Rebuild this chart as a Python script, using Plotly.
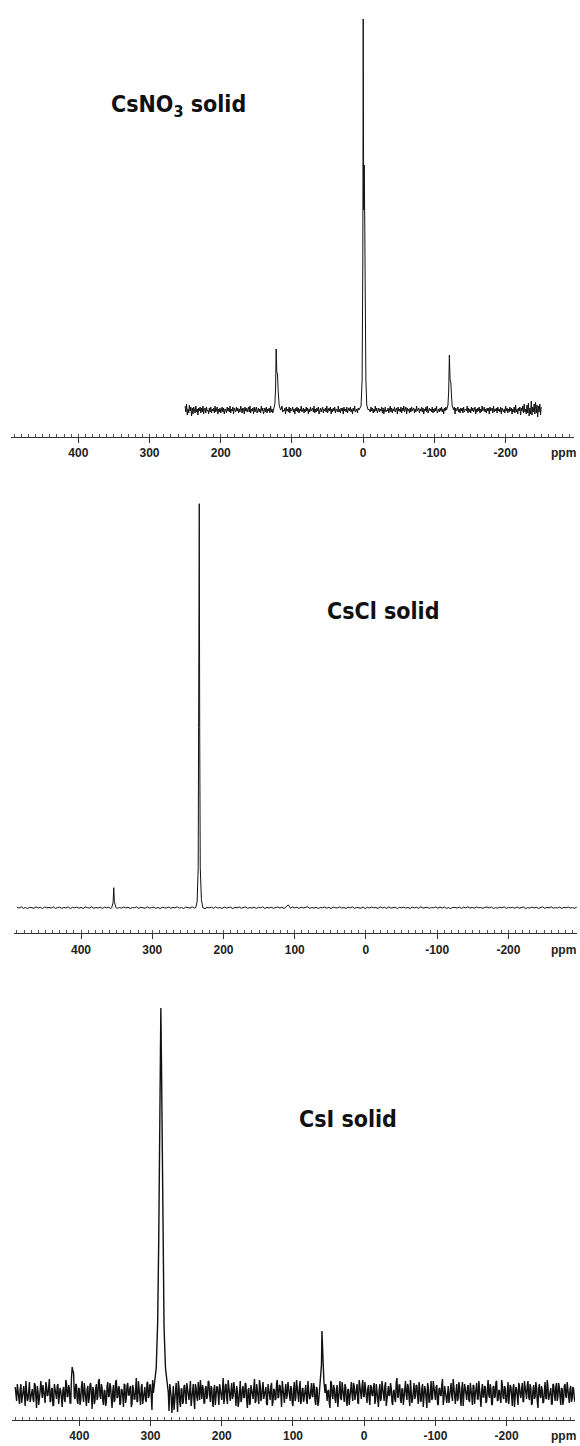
import plotly.graph_objects as go

# ---------------- shared axis ----------------
PPM_RANGE = [494.5, -296]
TICK_VALUES = [400, 300, 200, 100, 0, -100, -200]
TICK_TEXT = ["400", "300", "200", "100", "0", "-100", "-200"]

# ---------------- CsNO3 solid ----------------
CSNO3_LABEL = "CsNO<sub>3</sub> solid"
CSNO3_START, CSNO3_STEP = 250, 1
CSNO3_NOISE = [
    4, -2, 6, -5, 1, -3, 5, -1, 3, -6,
    2, -4, 3, 0, -3, 4, -2, 1, -5, 2,
    -1, 3, -3, 2, -2, 4, -4, 1, 2, -3,
    3, -1, 0, -4, 2, -2, 3, -3, 1, -1,
    2, -3, 4, -2, 0, 3, -4, 1, -2, 2,
    -3, 1, 3, -2, 2, -4, 1, 0, -3, 3,
    -1, 2, -2, 4, -3, 1, -1, 3, -4, 2,
    0, -2, 3, -1, 2, -3, 1, -2, 4, -1,
    -3, 2, 1, -4, 3, -1, 2, -2, 0, 3,
    -2, 4, -3, 1, -1, 2, -4, 3, -2, 1,
    3, -3, 0, 2, -2, 1, -3, 4, -1, 2,
    -4, 1, 2, -2, 3, -3, 1, -1, 2, -3,
    4, -2, 1, -3, 2, 0, -2, 3, -4, 1,
    -1, 3, -2, 2, -3, 1, 4, -2, 0, -1,
    2, -4, 3, -1, 1, -2, 3, -3, 2, -1,
    0, 3, -2, 1, -4, 2, -1, 3, -2, 2,
    -3, 1, -1, 4, -2, 0, 2, -3, 1, -2,
    3, -1, 2, -4, 1, -2, 3, -1, 0, 2,
    -2, 4, -3, 1, -2, 2, -1, 3, -4, 1,
    2, -2, 0, 3, -3, 1, -1, 2, -2, 4,
    -3, 1, 2, -1, 3, -4, 1, -2, 2, -1,
    3, -3, 1, 0, -2, 4, -2, 1, -3, 2,
    -1, 2, -4, 3, -1, 1, -2, 3, -3, 0,
    2, -1, 3, -2, 1, -4, 2, -1, 4, -2,
    0, 1, -3, 2, -2, 3, -1, 0, 2, -3,
    4, -2, 1, -1, 3, -3, 2, -4, 1, 0,
    -2, 3, -1, 2, -3, 1, -2, 4, -1, 2,
    -3, 0, 2, -2, 1, -1, 3, -3, 2, -4,
    1, 3, -2, 0, -1, 2, -3, 1, 4, -2,
    2, -3, 1, -1, 3, -2, 0, 2, -4, 3,
    -1, 1, -2, 3, -3, 2, -1, 4, -2, 0,
    3, -4, 2, -1, 1, -3, 2, -2, 3, -1,
    0, 2, -3, 1, -2, 4, -1, 0, 2, -3,
    1, -1, 3, -2, 2, -4, 1, -1, 3, -2,
    4, -3, 0, 2, -1, 1, -2, 3, -3, 1,
    -2, 2, -1, 4, -3, 0, 1, -2, 2, -1,
    3, -2, 1, -4, 2, -1, 3, -3, 0, 2,
    -1, 4, -2, 1, -3, 2, -2, 1, 3, -4,
    2, -1, 0, 3, -2, 1, -3, 2, -1, 2,
    -3, 3, -2, 0, 1, -1, 4, -3, 2, -2,
    1, -3, 3, -1, 2, -2, 0, 3, -4, 1,
    -2, 2, -1, 3, -3, 1, -2, 4, -1, 0,
    3, -2, 1, -3, 2, -1, 2, -4, 3, -1,
    0, 2, -3, 4, -2, 1, -1, 2, -3, 3,
    -1, 1, -2, 3, -4, 2, 0, -2, 1, -3,
    4, -1, 2, -3, 1, -2, 3, -1, 2, -4,
    1, -2, 3, -3, 5, -2, 1, -4, 2, -1,
    3, -5, 2, -1, 4, -3, 6, -2, 1, -4,
    5, -3, 7, -6, 2, -4, 9, -5, 3, -2,
    6, -4, 8, -3, 5, -7, 4, -2, 6, -5,
    3,
]
CSNO3_CENTER = [(6, 0), (3, 4), (1.5, 30), (0.5, 150), (0, 391), (-0.7, 200),
                (-1.5, 245), (-2.3, 180), (-3.0, 90), (-3.8, 30), (-5, 5), (-7, 0)]
CSNO3_SB_LEFT = [(126, 0), (124, 6), (123, 22), (122.2, 61), (121.3, 38),
                 (120.3, 36), (119.3, 18), (118, 5), (116, 0)]
CSNO3_SB_RIGHT = [(-117, 0), (-119, 5), (-120, 18), (-121, 55), (-122, 30),
                  (-123, 28), (-124, 14), (-125, 4), (-127, 0)]

# ---------------- CsCl solid ----------------
CSCL_LABEL = "CsCl solid"
CSCL_START, CSCL_STEP = 490, 3
CSCL_NOISE = [
    0.6, -0.4, 0.9, -0.7, 0.2, -0.9, 0.5, 0.1, -0.6, 0.8,
    -0.3, 0.4, -0.8, 0.7, -0.2, 0.3, -0.5, 0.9, -0.7, 0.1,
    0.5, -0.6, 0.2, -0.3, 0.8, -0.9, 0.4, -0.1, 0.6, -0.5,
    0.3, -0.8, 0.7, 0.0, -0.4, 0.9, -0.6, 0.2, -0.3, 0.5,
    -0.7, 0.6, -0.2, 0.4, -0.9, 0.3, 0.8, -0.5, 0.1, -0.4,
    0.7, -0.3, 0.5, -0.8, 0.2, -0.1, 0.9, -0.6, 0.4, -0.2,
    -0.5, 0.8, -0.4, 0.1, 0.6, -0.7, 0.3, -0.9, 0.5, 0.0,
    -0.3, 0.7, -0.6, 0.4, -0.2, 0.9, -0.5, 0.2, -0.8, 0.6,
    0.1, -0.4, 0.8, -0.3, 0.5, -0.7, 0.2, 0.6, -0.9, 0.3,
    -0.1, 0.5, -0.6, 0.9, -0.4, 0.2, -0.8, 0.7, -0.3, 0.4,
    0.6, -0.9, 0.3, -0.2, 0.7, -0.5, 0.1, 0.8, -0.6, 0.2,
    -0.4, 0.6, -0.7, 0.3, -0.1, 0.9, -0.8, 0.4, -0.3, 0.5,
    -0.6, 0.2, 0.7, -0.4, 0.5, -0.9, 1.2, 2.8, -0.5, 0.8,
    -0.2, 0.4, -0.7, 0.6, -0.3, 0.1, 0.9, -0.6, 0.2, -0.4,
    0.5, -0.8, 0.3, -0.1, 0.7, -0.5, 0.4, -0.9, 0.6, 0.0,
    -0.3, 0.8, -0.4, 0.2, -0.7, 0.5, -0.2, 0.9, -0.6, 0.3,
    0.1, -0.5, 0.7, -0.8, 0.4, -0.3, 0.6, -0.1, 0.2, -0.7,
    0.9, -0.2, 0.3, -0.6, 0.8, -0.4, 0.1, 0.5, -0.9, 0.4,
    -0.1, 0.6, -0.5, 0.3, -0.8, 0.7, -0.2, 0.4, -0.6, 0.9,
    -0.4, 0.2, 0.5, -0.7, 0.3, -0.1, 0.8, -0.5, 0.6, -0.3,
    0.7, -0.6, 0.1, -0.9, 0.4, 0.2, -0.3, 0.6, -0.7, 0.5,
    -0.2, 0.9, -0.4, 0.3, -0.5, 0.8, -0.1, 0.2, -0.6, 0.4,
    0.6, -0.3, 0.7, -0.8, 0.1, -0.4, 0.5, -0.2, 0.9, -0.7,
    0.3, -0.1, 0.4, -0.6, 0.8, -0.5, 0.2, 0.7, -0.9, 0.1,
    -0.4, 0.6, -0.3, 0.5, -0.7, 0.2, 0.9, -0.6, 0.3, -0.2,
    0.8, -0.5, 0.1, -0.3, 0.6, -0.8, 0.4, -0.1, 0.7, -0.4,
    0.2, -0.6, 0.5,
]
CSCL_MAIN = [(239, 0), (237, 6), (235.5, 40), (234.6, 200), (234, 404),
             (233.4, 180), (232.6, 40), (231, 8), (229, 0)]
CSCL_SB = [(357, 0), (355, 5), (354, 20), (353.2, 6), (351, 0)]

# ---------------- CsI solid ----------------
CSI_LABEL = "CsI solid"
# points at even ppm (490, 488, ...)
CSI_EVEN_START, CSI_EVEN_STEP = 490, 2
CSI_NOISE_EVEN = [
    6, -8, 3, -11, 9, -4, 7, -13, 5, -6,
    11, -3, 4, -9, 8, -15, 2, -7, 12, -5,
    3, -10, 7, -2, 14, -8, 5, -12, 4, -6,
    9, -4, 2, -14, 6, -9, 10, -3, 5, -10,
    26, 20, -6, 8, -11, 4, -7, 12, -9, 3,
    -13, 7, -5, 10, -16, 3, -8, 9, -4, 14,
    -6, 5, -12, 2, -9, 11, -3, 6, -15, 8,
    -7, 13, -4, 6, -10, 3, -14, 8, -5, 10,
    -2, 7, -11, 4, -6, 15, -8, 3, -12, 9,
    -5, 6, -9, 11, -3, 8, -17, 4, -7, 12,
    -10, 2, -6, 9, -13, 5, -4, 16, -18, 3,
    -20, 7, -5, 10, -19, 6, -14, 4, -9, 8,
    -11, 3, -7, 12, -4, 9, -16, 5, -8, 2,
    13, -6, 4, -10, 7, -3, 11, -9, 5, -14,
    8, -2, 6, -12, 3, -7, 15, -5, 9, -11,
    4, -8, 10, -3, 6, -13, 2, -9, 12, -6,
    7, -4, 9, -15, 5, -10, 3, -6, 14, -8,
    2, -11, 8, -5, 11, -3, 6, -12, 4, -7,
    10, -9, 3, -6, 13, -4, 7, -14, 5, -10,
    9, -2, 6, -8, 4, -13, 11, -5, 3, -9,
    12, -7, 5, -3, 8, -11, 2, -6, 10, -4,
    6, -12, 4, -9, 14, -5, 7, -3, 9, -8,
    3, -15, 10, -6, 5, -10, 8, -4, 12, -7,
    2, -9, 6, -13, 4, -5, 11, -8, 7, -3,
    9, -11, 5, -6, 13, -4, 3, -10, 8, -12,
    6, -3, 10, -7, 2, -14, 9, -5, 4, -8,
    11, -6, 7, -2, 5, -12, 3, -9, 15, -4,
    8, -10, 4, -5, 12, -7, 6, -13, 2, -6,
    10, -3, 7, -11, 5, -8, 9, -4, 3, -15,
    6, -9, 12, -5, 4, -7, 8, -12, 5, -3,
    14, -6, 3, -10, 7, -4, 10, -8, 2, -11,
    9, -5, 6, -13, 11, -3, 4, -7, 8, -9,
    5, -12, 7, -2, 10, -6, 3, -14, 9, -4,
    6, -8, 13, -5, 4, -11, 7, -3, 12, -7,
    2, -10, 8, -6, 5, -9, 11, -4, 6, -13,
    9, -3, 4, -12, 7, -5, 10, -8, 3, -6,
    12, -7, 5, -10, 8, -4, 6, -15, 9, -5,
    3, -9, 11, -6, 7, -2, 5, -11, 8, -8,
    10, -4, 6, -12, 4, -7, 9, -5, 3, -10,
    7, -6, 4, -9,
]
# points at odd ppm (489, 487, ...)
CSI_ODD_START, CSI_ODD_STEP = 489, 2
CSI_NOISE_ODD = [
    -5, 9, -7, 4, -10, 6, -3, 12, -8, 5,
    -9, 3, -6, 10, -4, 7, -12, 2, -5, 8,
    -7, 11, -3, 6, -9, 4, -13, 9, -2, 7,
    -11, 5, -8, 3, -6, 13, -4, 8, -10, 15,
    22, -4, 9, -7, 5, -12, 6, -3, 10, -8,
    4, -10, 8, -2, 6, -11, 5, -7, 12, -3,
    9, -8, 3, -13, 7, -4, 10, -6, 2, -9,
    11, -5, 6, -12, 4, -3, 9, -10, 7, -2,
    5, -14, 8, -6, 3, -9, 12, -4, 6, -11,
    2, -7, 10, -5, 8, -3, 13, -9, 4, -6,
    7, -12, 5, -8, 11, -2, 6, -15, 9, -4,
    3, -17, 8, -6, 12, -9, 4, -11, 7, -3,
    10, -5, 2, -13, 6, -8, 9, -4, 11, -7,
    -3, 8, -10, 5, -6, 12, -2, 7, -9, 4,
    -12, 6, -4, 9, -7, 3, -11, 8, -5, 13,
    -8, 2, -6, 11, -3, 7, -14, 5, -9, 4,
    -5, 10, -7, 3, -12, 8, -2, 6, -10, 9,
    -4, 13, -8, 5, -6, 2, -11, 9, -3, 7,
    -13, 4, -7, 10, -5, 8, -2, 12, -9, 3,
    -6, 11, -4, 7, -10, 5, -8, 13, -3, 6,
    -11, 4, -9, 2, -7, 12, -5, 8, -3, 10,
    -8, 6, -13, 3, -4, 9, -11, 5, -7, 2,
    -10, 12, -3, 8, -6, 4, -14, 7, -5, 11,
    -4, 9, -8, 3, -12, 6, -2, 10, -7, 5,
    -9, 13, -5, 7, -3, 11, -10, 4, -6, 8,
    -2, 6, -11, 9, -4, 3, -8, 12, -5, 7,
    -13, 5, -3, 10, -9, 2, -6, 11, -4, 8,
    -7, 4, -12, 6, -2, 9, -5, 13, -10, 3,
    -6, 8, -4, 11, -8, 5, -14, 7, -3, 10,
    -9, 3, -7, 12, -5, 6, -11, 4, -2, 9,
    -12, 7, -4, 5, -10, 8, -3, 14, -6, 2,
    -8, 11, -5, 4, -13, 9, -2, 6, -7, 10,
    -3, 8, -11, 5, -6, 12, -9, 3, -4, 7,
    -10, 4, -2, 9, -12, 6, -5, 11, -8, 3,
    -6, 13, -4, 7, -9, 2, -11, 8, -3, 5,
    -14, 6, -7, 10, -2, 4, -9, 12, -5, 8,
    -4, 9, -12, 3, -6, 11, -8, 5, -3, 7,
    -10, 2, -5, 13, -7, 4, -11, 9, -2, 6,
    -8, 10, -4, 5, -12, 7, -3, 11, -6, 4,
    -9, 6, -5,
]
CSI_MAIN = [(296, 0), (292, 25), (290, 70), (288.5, 150), (287.3, 250), (286.3, 340),
            (285.5, 385), (284.7, 335), (283.6, 240), (282.4, 140), (281, 65),
            (279, 25), (275, 0)]
CSI_SECOND = [(63, 0), (61, 14), (60, 28), (59.3, 62), (58.6, 36), (57.6, 30),
              (56.6, 12), (55, 0)]


def build(sources, peaks):
    windows = [(min(p[0] for p in pk), max(p[0] for p in pk)) for pk in peaks]
    pts = []
    for start, step, noise in sources:
        for i, n in enumerate(noise):
            x = start - i * step
            if not any(lo <= x <= hi for lo, hi in windows):
                pts.append((x, n))
    for pk in peaks:
        pts.extend(pk)
    pts.sort(key=lambda p: -p[0])
    return [p[0] for p in pts], [p[1] for p in pts]


W, H = 580, 1446
def px(x):
    return x / W
def py(y):
    return 1 - y / H

panels = [
    # data, x-domain px, y bottom px, y top px, baseline px, line width
    (build([(CSNO3_START, CSNO3_STEP, CSNO3_NOISE)],
           [CSNO3_CENTER, CSNO3_SB_LEFT, CSNO3_SB_RIGHT]),
     (11, 574), 436.7, 0, 410.0, 1.0),
    (build([(CSCL_START, CSCL_STEP, CSCL_NOISE)], [CSCL_MAIN, CSCL_SB]),
     (13.7, 576.8), 933.3, 470, 907.7, 1.0),
    (build([(CSI_EVEN_START, CSI_EVEN_STEP, CSI_NOISE_EVEN),
            (CSI_ODD_START, CSI_ODD_STEP, CSI_NOISE_ODD)], [CSI_MAIN, CSI_SECOND]),
     (12, 575), 1420, 960, 1393, 1.4),
]

fig = go.Figure()
tickfont = dict(family="Liberation Sans, Arial, sans-serif", size=12, color="#222", weight="bold")
for i, ((xs, ys), (xl, xr), ybot, ytop, base, lw) in enumerate(panels, start=1):
    sfx = "" if i == 1 else str(i)
    fig.add_trace(go.Scatter(x=xs, y=ys, mode="lines",
                             line=dict(color="#111", width=lw),
                             xaxis="x" + sfx, yaxis="y" + sfx,
                             showlegend=False, hoverinfo="skip"))
    fig.layout["xaxis" + sfx] = dict(
        domain=[px(xl), px(xr)], range=PPM_RANGE, anchor="y" + sfx,
        tickmode="array", tickvals=TICK_VALUES, ticktext=TICK_TEXT,
        ticks="outside", ticklen=5, tickwidth=1, tickcolor="#333",
        showline=True, linecolor="#333", linewidth=1,
        showgrid=False, zeroline=False, tickfont=tickfont,
        minor=dict(ticks="inside", ticklen=3, tickwidth=1, tickcolor="#555",
                   tickmode="linear", tick0=0, dtick=10, showgrid=False),
    )
    fig.layout["yaxis" + sfx] = dict(
        domain=[py(ybot), py(ytop)], range=[-(ybot - base), base - ytop],
        anchor="x" + sfx, visible=False, showgrid=False, zeroline=False,
    )

labelfont = dict(family="Liberation Sans Narrow, DejaVu Sans Condensed, Arial Narrow, sans-serif",
                 size=23, color="#111", weight="bold")
annotations = [
    dict(text=CSNO3_LABEL, x=px(109), y=py(106), xanchor="left", yanchor="middle"),
    dict(text=CSCL_LABEL, x=px(325), y=py(611), xanchor="left", yanchor="middle"),
    dict(text=CSI_LABEL, x=px(297), y=py(1119), xanchor="left", yanchor="middle"),
]
for a in annotations:
    a.update(xref="paper", yref="paper", showarrow=False, font=labelfont)
for ylab in (452.5, 950, 1436):
    annotations.append(dict(text="ppm", x=px(563), y=py(ylab), xref="paper", yref="paper",
                            xanchor="center", yanchor="middle", showarrow=False, font=tickfont))
fig.update_layout(width=W, height=H, margin=dict(l=0, r=0, t=0, b=0),
                  paper_bgcolor="white", plot_bgcolor="white",
                  annotations=annotations)

fig.write_html("out.html")
